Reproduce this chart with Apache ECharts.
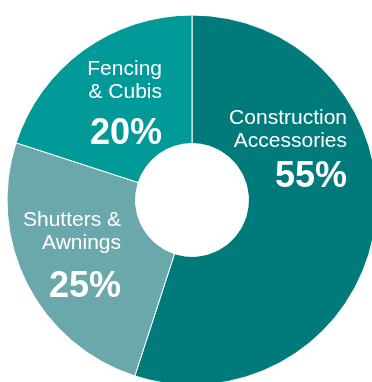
<!DOCTYPE html>
<html>
<head>
<meta charset="utf-8">
<script src="https://cdn.jsdelivr.net/npm/echarts@6/dist/echarts.min.js"></script>
<style>
  html, body { margin: 0; padding: 0; background: #ffffff; }
  #chart { width: 372px; height: 382px; }
</style>
</head>
<body>
<div id="chart"></div>
<script>
// Product categories, clockwise from 12 o'clock
var categories = ['Construction\nAccessories', 'Shutters &\nAwnings', 'Fencing\n& Cubis'];
// Share of sales, percent
var shares = [55, 25, 20];
// Slice colours
var sliceColors = ['#007a7b', '#6ba8ac', '#029999'];

// Label anchors: right edge and top of each text block, plus the height of the percent line
var labelAnchors = [
  { x: 347, y: 107, pctLine: 48 },
  { x: 121, y: 209, pctLine: 64 },
  { x: 162, y: 58, pctLine: 60 }
];

var font = '"Liberation Sans", Arial, Helvetica, sans-serif';

var rich = {
  n: { fontSize: 21, lineHeight: 23, color: '#ffffff', fontFamily: font, align: 'right' }
};
labelAnchors.forEach(function (a, i) {
  rich['p' + i] = {
    fontSize: 36, fontWeight: 'bold', lineHeight: a.pctLine,
    color: '#ffffff', fontFamily: font, align: 'right'
  };
});

var chart = echarts.init(document.getElementById('chart'), null, { renderer: 'canvas' });

chart.setOption({
  backgroundColor: '#ffffff',
  animation: false,
  series: [{
    type: 'pie',
    center: [192, 200],
    radius: [56.5, 185],
    startAngle: 90,
    clockwise: true,
    avoidLabelOverlap: false,
    silent: true,
    itemStyle: { borderColor: '#ffffff', borderWidth: 1 },
    label: {
      show: true,
      position: 'inside',
      align: 'right',
      formatter: function (p) {
        var lines = p.name.split('\n').map(function (s) { return '{n|' + s + '}'; });
        return lines.join('\n') + '\n{p' + p.dataIndex + '|' + Math.round(p.percent) + '%}';
      },
      rich: rich
    },
    labelLine: { show: false },
    labelLayout: function (params) {
      var a = labelAnchors[params.dataIndex];
      return { x: a.x, y: a.y, align: 'right', verticalAlign: 'top' };
    },
    data: categories.map(function (c, i) {
      return { name: c, value: shares[i], itemStyle: { color: sliceColors[i] } };
    })
  }]
});
</script>
</body>
</html>
